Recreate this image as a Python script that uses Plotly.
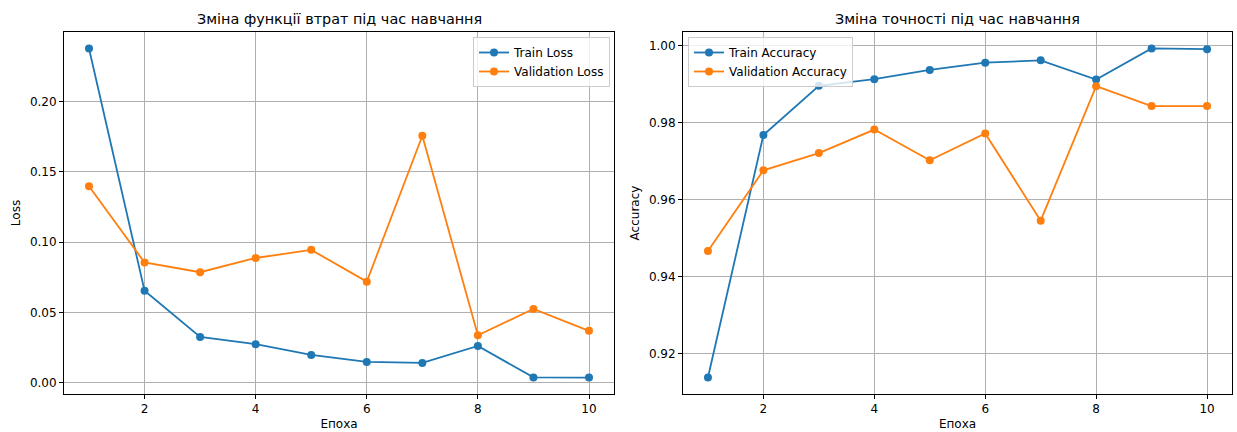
import plotly.graph_objects as go

epochs = [1, 2, 3, 4, 5, 6, 7, 8, 9, 10]
train_loss = [0.2378, 0.0655, 0.0327, 0.0275, 0.0199, 0.0149, 0.0142, 0.0263, 0.0039, 0.0038]
val_loss = [0.1398, 0.0856, 0.0787, 0.0888, 0.0946, 0.0720, 0.1757, 0.0339, 0.0526, 0.0370]
train_acc = [0.9137, 0.9768, 0.9896, 0.9913, 0.9937, 0.9956, 0.9962, 0.9912, 0.9993, 0.9991]
val_acc = [0.9466, 0.9676, 0.9721, 0.9782, 0.9702, 0.9772, 0.9545, 0.9895, 0.9843, 0.9843]

loss_title = "Зміна функції втрат під час навчання"
acc_title = "Зміна точності під час навчання"
x_label = "Епоха"

BLUE = "#1f77b4"
ORANGE = "#ff7f0e"
W, H = 1237, 432
FONT = "DejaVu Sans"

def pad(lo, hi, f=0.05):
    r = hi - lo
    return [lo - f * r, hi + f * r]

fig = go.Figure()

def add(x, y, name, color, xa, ya, legend):
    fig.add_trace(go.Scatter(
        x=x, y=y, name=name, mode="lines+markers",
        line=dict(color=color, width=1.8),
        marker=dict(color=color, size=8),
        xaxis=xa, yaxis=ya, legend=legend))

add(epochs, train_loss, "Train Loss", BLUE, "x", "y", "legend")
add(epochs, val_loss, "Validation Loss", ORANGE, "x", "y", "legend")
add(epochs, train_acc, "Train Accuracy", BLUE, "x2", "y2", "legend2")
add(epochs, val_acc, "Validation Accuracy", ORANGE, "x2", "y2", "legend2")

ax_common = dict(showline=True, mirror=True, linecolor="black", linewidth=1,
                 ticks="outside", ticklen=4, tickcolor="black", tickwidth=1,
                 showgrid=True, gridcolor="#b0b0b0", gridwidth=1, zeroline=False,
                 tickfont=dict(family=FONT, size=12, color="black"))

xd1 = [64 / W, 614 / W]
xd2 = [683 / W, 1232 / W]
yd = [(H - 394) / H, (H - 32) / H]

xr = pad(min(epochs), max(epochs))
loss_all = train_loss + val_loss
acc_all = train_acc + val_acc

fig.update_layout(
    width=W, height=H,
    margin=dict(l=0, r=0, t=0, b=0),
    paper_bgcolor="white", plot_bgcolor="white",
    font=dict(family=FONT, size=12, color="black"),
    xaxis=dict(domain=xd1, anchor="y", range=xr, tick0=0, dtick=2,
               title=dict(text=x_label, standoff=4, font=dict(size=12)), **ax_common),
    yaxis=dict(domain=yd, anchor="x", range=pad(min(loss_all), max(loss_all)),
               tick0=0, dtick=0.05, tickformat=".2f",
               title=dict(text="Loss", standoff=6, font=dict(size=12)), **ax_common),
    xaxis2=dict(domain=xd2, anchor="y2", range=xr, tick0=0, dtick=2,
                title=dict(text=x_label, standoff=4, font=dict(size=12)), **ax_common),
    yaxis2=dict(domain=yd, anchor="x2", range=pad(min(acc_all), max(acc_all)),
                tick0=0, dtick=0.02, tickformat=".2f",
                title=dict(text="Accuracy", standoff=6, font=dict(size=12)), **ax_common),
    legend=dict(x=610 / W, y=(H - 37) / H, xanchor="right", yanchor="top",
                bgcolor="rgba(255,255,255,0.8)", bordercolor="#cccccc", borderwidth=1,
                font=dict(family=FONT, size=12, color="black"), tracegroupgap=0,
                itemwidth=30),
    legend2=dict(x=688 / W, y=(H - 37) / H, xanchor="left", yanchor="top",
                 bgcolor="rgba(255,255,255,0.8)", bordercolor="#cccccc", borderwidth=1,
                 font=dict(family=FONT, size=12, color="black"), tracegroupgap=0,
                 itemwidth=30),
    annotations=[
        dict(text=loss_title, x=(xd1[0] + xd1[1]) / 2, y=(H - 19) / H, xref="paper", yref="paper",
             showarrow=False, font=dict(family=FONT, size=14.4, color="black"),
             xanchor="center", yanchor="middle"),
        dict(text=acc_title, x=(xd2[0] + xd2[1]) / 2, y=(H - 19) / H, xref="paper", yref="paper",
             showarrow=False, font=dict(family=FONT, size=14.4, color="black"),
             xanchor="center", yanchor="middle"),
    ],
)

fig.write_html("out.html", config={"displayModeBar": False},
               post_script="document.body.style.margin='0';document.body.style.overflow='hidden';")
